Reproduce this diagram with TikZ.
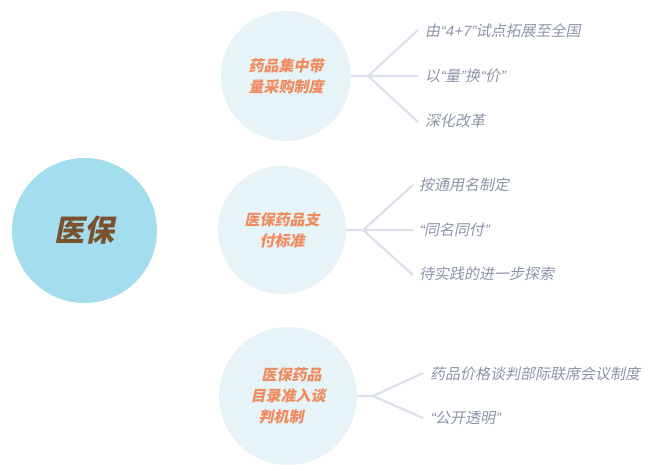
\documentclass[tikz,border=0pt]{standalone}
\usepackage{fontspec}
\newfontfamily\cjk[FakeSlant=0.2]{Noto Sans CJK SC}
\newfontfamily\lat[FakeSlant=0.2]{Liberation Sans}
\newcommand{\myoq}{{\lat “}}
\newcommand{\mycq}{{\lat ”}}
\definecolor{rootfill}{HTML}{A4DDEE}
\definecolor{roottext}{HTML}{7A5230}
\definecolor{brfill}{HTML}{E6F3F7}
\definecolor{brtext}{HTML}{F08A5D}
\definecolor{leaftext}{HTML}{8C94A8}
\definecolor{conn}{HTML}{DCE0EA}
\tikzset{
  rootnode/.style={circle, fill=rootfill, minimum size=145pt, inner sep=0pt, text=roottext, font=\cjk\bfseries\fontsize{30}{34}\selectfont},
  brnode/.style={circle, fill=brfill, inner sep=0pt, text=brtext, font=\cjk\bfseries\fontsize{15}{21}\selectfont, align=center},
  leafnode/.style={anchor=west, inner sep=0pt, text=leaftext, font=\cjk\fontsize{15}{17}\selectfont},
  connline/.style={draw=conn, line width=2.2pt},
}
\begin{document}
\begin{tikzpicture}[x=1pt,y=-1pt]
\useasboundingbox (0,0) rectangle (670,471);
% root
\node[rootnode] (root) at (84.5,230.5) {医保};
% branches
\node[brnode, minimum size=130pt] (b1) at (286,76) {药品集中带\\量采购制度};
\node[brnode, minimum size=128pt] (b2) at (282,230) {医保药品支\\付标准};
\node[brnode, minimum size=138pt, align=left] (b3) at (288,396) {\hspace*{11pt}医保药品\\目录准入谈\\\hspace*{8pt}判机制};
% forks
\coordinate (f1) at (368,76);
\coordinate (f2) at (363,230);
\coordinate (f3) at (373,396);
% leaves
\node[leafnode] (l11) at (425,31) {由\myoq{\lat 4+7}\mycq 试点拓展至全国};
\node[leafnode] (l12) at (425,76) {以\myoq 量\mycq 换\myoq 价\mycq};
\node[leafnode] (l13) at (425,121) {深化改革};
\node[leafnode] (l21) at (419,185) {按通用名制定};
\node[leafnode] (l22) at (419,230) {\myoq 同名同付\mycq};
\node[leafnode] (l23) at (419,274) {待实践的进一步探索};
\node[leafnode] (l31) at (430,374) {药品价格谈判部际联席会议制度};
\node[leafnode] (l32) at (430,418) {\myoq 公开透明\mycq};
% connector ends
\coordinate (e11) at (418,30);
\coordinate (e12) at (418,76);
\coordinate (e13) at (418,122);
\coordinate (e21) at (413,185);
\coordinate (e22) at (413,230);
\coordinate (e23) at (413,275);
\coordinate (e31) at (423,373);
\coordinate (e32) at (423,418);
% connectors
\draw[connline] (b1.east) -- (f1) (f1) -- (e11) (f1) -- (e12) (f1) -- (e13);
\draw[connline] (b2.east) -- (f2) (f2) -- (e21) (f2) -- (e22) (f2) -- (e23);
\draw[connline] (b3.east) -- (f3) (f3) -- (e31) (f3) -- (e32);
\end{tikzpicture}
\end{document}
